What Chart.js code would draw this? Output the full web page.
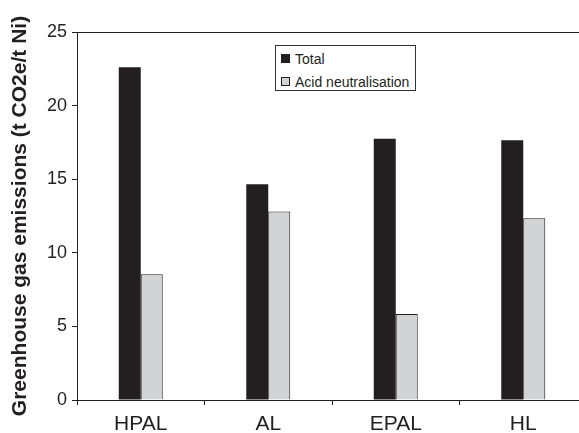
<!DOCTYPE html>
<html>
<head>
<meta charset="utf-8">
<script src="https://cdn.jsdelivr.net/npm/chart.js@4"></script>
<style>
  html, body { margin: 0; padding: 0; background: #fff; overflow: hidden; }
  #wrap { position: relative; width: 600px; height: 433px; }
  #legend {
    position: absolute; left: 275px; top: 45px; width: 139px; height: 44px;
    border: 1px solid #333; background: #fff;
    font-family: "Liberation Sans", Arial, sans-serif; font-size: 14px; color: #231f20;
  }
  #legend div { position: absolute; left: 5px; white-space: nowrap; line-height: 16px; }
  #legend span.box { display: inline-block; width: 7px; height: 7px; border: 1px solid #231f20; margin-right: 5px; vertical-align: 1px; }
</style>
</head>
<body>
<div id="wrap">
  <canvas id="ghg_chart" width="600" height="433"></canvas>
  <div id="legend"></div>
</div>
<script>
var categories = ["HPAL", "AL", "EPAL", "HL"];
var totalValues = [22.6, 14.65, 17.75, 17.65];
var acidValues = [8.55, 12.8, 5.85, 12.35];
var yTicks = [0, 5, 10, 15, 20, 25];

var darkColor = '#231f20';
var greyColor = '#d1d3d4';

function createChart() {
    var ctx = document.getElementById("ghg_chart").getContext('2d');
    var chart = new Chart(ctx, {
        type: 'bar',
        data: {
            labels: categories,
            datasets: [{
                label: "Total",
                data: totalValues,
                backgroundColor: darkColor,
                borderColor: darkColor,
                borderWidth: 0
            }, {
                label: "Acid neutralisation",
                data: acidValues,
                backgroundColor: greyColor,
                borderColor: darkColor,
                borderWidth: 1
            }]
        },
        options: {
            responsive: false,
            animation: false,
            layout: {padding: {left: 0, right: 13, top: 32, bottom: 0}},
            categoryPercentage: 0.345,
            barPercentage: 1.0,
            plugins: {legend: {display: false}, tooltip: {enabled: false}},
            scales: {
                x: {
                    grid: {offset: true, drawOnChartArea: false, color: darkColor, tickLength: 5, lineWidth: 1},
                    border: {display: true, color: darkColor, width: 1},
                    ticks: {color: darkColor, padding: 7, font: {family: "Liberation Sans", size: 21}},
                    afterFit: function (scale) { scale.height = 33; }
                },
                y: {
                    min: 0, max: 25,
                    afterBuildTicks: function (scale) {
                        scale.ticks = yTicks.map(function (v) { return {value: v}; });
                    },
                    grid: {
                        drawOnChartArea: true,
                        color: function (c) { return c.tick && c.tick.value === 25 ? darkColor : 'rgba(0,0,0,0)'; },
                        tickColor: darkColor,
                        tickLength: 5,
                        lineWidth: 1
                    },
                    border: {display: true, color: darkColor, width: 1},
                    ticks: {color: darkColor, padding: 5, font: {family: "Liberation Sans", size: 18}},
                    title: {
                        display: true,
                        text: "Greenhouse gas emissions (t CO2e/t Ni)",
                        color: darkColor,
                        font: {family: "Liberation Sans", size: 21, weight: 'bold'},
                        padding: {top: 8, bottom: 0}
                    },
                    afterFit: function (scale) { scale.width = 77; }
                }
            }
        }
    });

    var legend = document.getElementById("legend");
    var tops = [5, 28];
    chart.data.datasets.forEach(function (ds, i) {
        var item = document.createElement("div");
        item.style.top = tops[i] + "px";
        item.innerHTML = '<span class="box" style="background:' + ds.backgroundColor + '"></span>' + ds.label;
        legend.appendChild(item);
    });
}

createChart();
</script>
</body>
</html>
